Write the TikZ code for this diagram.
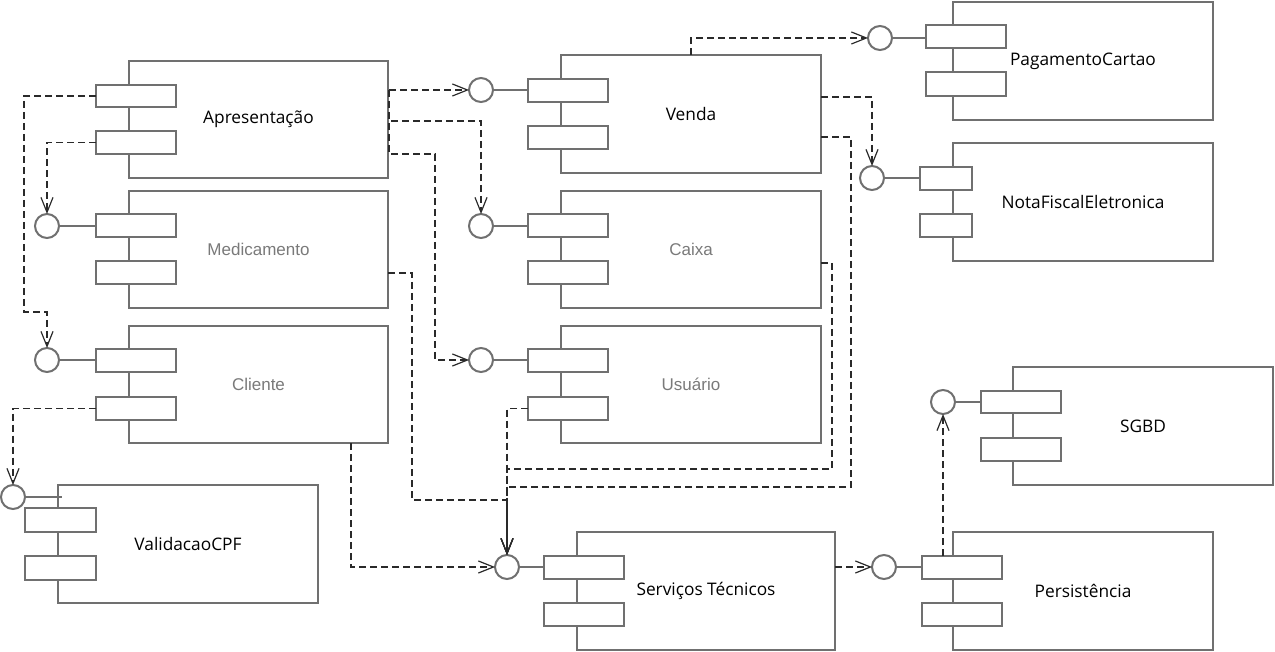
\documentclass[tikz,border=0pt]{standalone}
\usepackage{fontspec}
\setmainfont{Open Sans}
\newfontfamily\grayfont{Liberation Sans}
\usetikzlibrary{arrows.meta}
\definecolor{boxgray}{HTML}{707070}
\definecolor{depcol}{HTML}{2A2A2A}
\definecolor{txtgray}{HTML}{7A7A7A}
\tikzset{
  comp/.style={draw=boxgray, line width=2pt, fill=white, rectangle, inner sep=0pt, outer sep=0pt,
    font=\fontsize{17.3}{19}\selectfont, text=black},
  gcomp/.style={comp, font=\grayfont\fontsize{17}{19}\selectfont, text=txtgray},
  port/.style={draw=boxgray, line width=2pt, fill=white, rectangle, inner sep=0pt, outer sep=0pt},
  iface/.style={draw=boxgray, line width=2pt, fill=white, circle, minimum size=24pt, inner sep=0pt, outer sep=0pt},
  stem/.style={draw=boxgray, line width=1.5pt},
  dep/.style={draw=depcol, line width=1.2pt, dash pattern=on 7pt off 4pt,
    -{Straight Barb[length=15pt,width=12pt,line width=1.2pt]}},
}
% \cmp{name}{style}{left}{top}{right}{bottom}{text}
\newcommand{\cmp}[7]{\node[#2, minimum width={#5-#3}, minimum height={#6-#4}] (#1) at ({(#3+#5)/2},{(#4+#6)/2}) {#7};}
% \prt{name}{x1}{y1}{x2}{y2}
\newcommand{\prt}[5]{\node[port, minimum width={#4-#2}, minimum height={#5-#3}] (#1) at ({(#2+#4)/2},{(#3+#5)/2}) {};}
\begin{document}
\begin{tikzpicture}[x=1pt,y=-1pt]
\useasboundingbox (0,0) rectangle (1275,652);
% components
\cmp{apr}{comp}{129}{61}{388}{178}{Apresentação}
\prt{aprA}{96}{85}{176}{107}
\prt{aprB}{96}{131}{176}{154}

\cmp{med}{gcomp}{129}{191}{388}{308}{Medicamento}
\prt{medA}{96}{214}{176}{237}
\prt{medB}{96}{261}{176}{284}
\node[iface] (medI) at (47,226) {};
\draw[stem] (medI.east) -- (medA.west |- medI);

\cmp{cli}{gcomp}{129}{326}{388}{443}{Cliente}
\prt{cliA}{96}{349}{176}{372}
\prt{cliB}{96}{397}{176}{420}
\node[iface] (cliI) at (47,360) {};
\draw[stem] (cliI.east) -- (cliA.west |- cliI);

\cmp{val}{comp}{58}{485}{318}{603}{ValidacaoCPF}
\prt{valA}{25}{508}{96}{532}
\prt{valB}{25}{556}{96}{580}
\node[iface] (valI) at (13,497) {};
\coordinate (valS) at (62,497);
\draw[stem] (valI.east) -- (valS);

\cmp{ven}{comp}{561}{55}{821}{173}{Venda}
\prt{venA}{528}{79}{608}{102}
\prt{venB}{528}{126}{608}{149}
\node[iface] (venI) at (481,90) {};
\draw[stem] (venI.east) -- (venA.west |- venI);

\cmp{cai}{gcomp}{561}{191}{821}{308}{Caixa}
\prt{caiA}{528}{214}{608}{237}
\prt{caiB}{528}{261}{608}{284}
\node[iface] (caiI) at (481,226) {};
\draw[stem] (caiI.east) -- (caiA.west |- caiI);

\cmp{usu}{gcomp}{561}{326}{821}{443}{Usuário}
\prt{usuA}{528}{349}{608}{372}
\prt{usuB}{528}{397}{608}{420}
\node[iface] (usuI) at (481,360) {};
\draw[stem] (usuI.east) -- (usuA.west |- usuI);

\cmp{pag}{comp}{953}{2}{1213}{120}{PagamentoCartao}
\prt{pagA}{926}{25}{1006}{48}
\prt{pagB}{926}{72}{1006}{96}
\node[iface] (pagI) at (880,38) {};
\draw[stem] (pagI.east) -- (pagA.west |- pagI);

\cmp{nfe}{comp}{953}{143}{1213}{261}{NotaFiscalEletronica}
\prt{nfeA}{920}{167}{972}{190}
\prt{nfeB}{920}{214}{972}{237}
\node[iface] (nfeI) at (872,178) {};
\draw[stem] (nfeI.east) -- (nfeA.west |- nfeI);

\cmp{sgbd}{comp}{1013}{367}{1273}{485}{SGBD}
\prt{sgbdA}{981}{391}{1061}{413}
\prt{sgbdB}{981}{438}{1061}{461}
\node[iface] (sgbdI) at (943,402) {};
\draw[stem] (sgbdI.east) -- (sgbdA.west |- sgbdI);

\cmp{svc}{comp}{577}{532}{835}{650}{Serviços Técnicos}
\prt{svcA}{544}{556}{624}{579}
\prt{svcB}{544}{603}{624}{626}
\node[iface] (svcI) at (507,567) {};
\draw[stem] (svcI.east) -- (svcA.west |- svcI);

\cmp{per}{comp}{953}{532}{1213}{650}{Persistência}
\prt{perA}{922}{556}{1002}{579}
\prt{perB}{922}{603}{1002}{626}
\node[iface] (perI) at (884,567) {};
\draw[stem] (perI.east) -- (perA.west |- perI);

% bend points
\coordinate (k1) at (24,312);
\coordinate (a3) at (389,90);
\coordinate (a4) at (389,121);
\coordinate (a5) at (389,154);
\coordinate (k5) at (435,360);
\coordinate (v7) at (821,97);
\coordinate (v8) at (821,137);
\coordinate (k8) at (851,487);
\coordinate (c9) at (821,263);
\coordinate (k9) at (832,469);
\coordinate (m10) at (388,273);
\coordinate (k10) at (412,500);
\coordinate (cl12) at (351,443);

% dependencies
\draw[dep] (aprA.west) -| (k1) -| (cliI.north);
\draw[dep] (aprB.west) -| (medI.north);
\draw[dep] (a3) -- (venI.west);
\draw[dep] (a3) -- (a4) -| (caiI.north);
\draw[dep] (a3) -- (a5) -| (k5) -- (usuI.west);
\draw[dep] (ven.north) |- (pagI.west);
\draw[dep] (v7) -| (nfeI.north);
\draw[dep] (v8) -| (k8) -| (svcI.north);
\draw[dep] (c9) -| (k9) -| (svcI.north);
\draw[dep] (m10) -| (k10) -| (svcI.north);
\draw[dep] (usuB.west) -| (svcI.north);
\draw[dep] (cl12) |- (svcI.west);
\draw[dep] (cliB.west) -| (valI.north);
\draw[dep] (svc.east |- perI) -- (perI.west);
\draw[dep] (sgbdI |- perA.north) -- (sgbdI.south);
\end{tikzpicture}
\end{document}
